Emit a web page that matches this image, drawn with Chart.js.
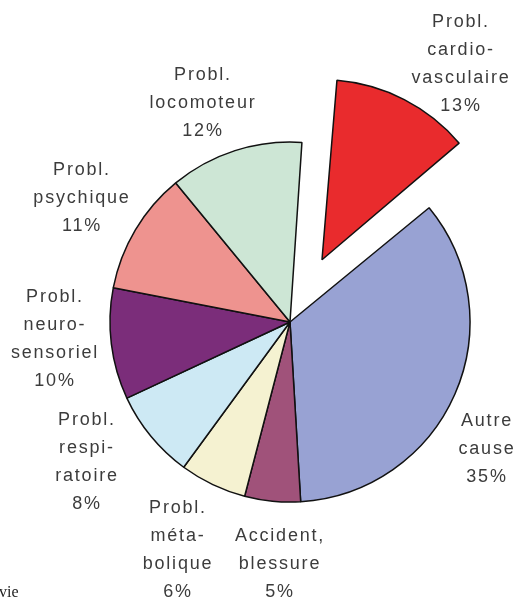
<!DOCTYPE html>
<html lang="fr">
<head>
    <meta charset="UTF-8">
    <title>Causes d'invalidité</title>
    <style>
        html, body {
            margin: 0;
            padding: 0;
            background: #fff;
            overflow: hidden;
        }
        canvas {
            display: block;
        }
    </style>
    <script src="https://cdn.jsdelivr.net/npm/chart.js"></script>
</head>
<body>

    <canvas id="pie-chart" width="517" height="599"></canvas>

    <script>
        // données, dans le sens des aiguilles d'une montre depuis le haut
        const categories = [
            ['Probl.', 'cardio-', 'vasculaire'],
            ['Autre', 'cause'],
            ['Accident,', 'blessure'],
            ['Probl.', 'méta-', 'bolique'],
            ['Probl.', 'respi-', 'ratoire'],
            ['Probl.', 'neuro-', 'sensoriel'],
            ['Probl.', 'psychique'],
            ['Probl.', 'locomoteur']
        ];
        const values = [13, 35, 5, 6, 8, 10, 11, 12];
        const colors = ['#e92b2d', '#98a2d3', '#a0527a', '#f5f2d1', '#cde9f4', '#7b2d7a', '#ee938f', '#cde6d5'];
        const explode = [280, 0, 0, 0, 0, 0, 0, 0];

        // position du bloc de texte, relative au centre du camembert
        const labelPos = [
            [171, -258], [197, 127], [-10, 242], [-112, 228],
            [-203, 140], [-235, 17], [-208, -124], [-87, -219]
        ];

        // chart.js agrandit le rayon d'une part décalée : on le remet à la taille des autres
        const keepRadius = {
            id: 'keepRadius',
            afterUpdate(chart) {
                chart.getDatasetMeta(0).data.forEach((arc, i) => {
                    const off = explode[i] / 4;
                    const fix = 1 - Math.sin(Math.min(Math.PI, arc.circumference));
                    arc.outerRadius -= off * fix;
                });
            }
        };

        const labelPlugin = {
            id: 'pieLabels',
            afterDatasetsDraw(chart) {
                const ctx = chart.ctx;
                const arcs = chart.getDatasetMeta(0).data;
                const cx = arcs[0].x;
                const cy = arcs[0].y;
                const lineH = 28;
                ctx.save();
                ctx.font = '18px "Liberation Sans", Arial, sans-serif';
                ctx.letterSpacing = '1.8px';
                ctx.fillStyle = '#3c3c3c';
                ctx.textAlign = 'center';
                ctx.textBaseline = 'middle';
                categories.forEach((lines, i) => {
                    const all = lines.concat([values[i] + '%']);
                    const x = cx + labelPos[i][0];
                    const y0 = cy + labelPos[i][1] - (all.length - 1) * lineH / 2;
                    all.forEach((t, k) => {
                        ctx.fillText(t, x, y0 + k * lineH);
                    });
                });
                // bout de légende coupé en bas à gauche
                ctx.letterSpacing = '0px';
                ctx.font = '16px "Liberation Serif", "Times New Roman", serif';
                ctx.fillStyle = '#222';
                ctx.textAlign = 'left';
                ctx.textBaseline = 'alphabetic';
                ctx.fillText('vie', -1, 597);
                ctx.restore();
            }
        };

        const ctx = document.getElementById('pie-chart').getContext('2d');

        const chart = new Chart(ctx, {
            type: 'pie',
            data: {
                labels: categories.map(c => c.join(' ')),
                datasets: [{
                    data: values,
                    backgroundColor: colors,
                    borderColor: '#111',
                    borderWidth: 1.5,
                    offset: explode,
                    clip: false
                }]
            },
            options: {
                responsive: false,
                animation: false,
                events: [],
                rotation: 3.8,
                radius: 180,
                layout: {
                    padding: { left: 63, top: 45, right: 0, bottom: 0 }
                },
                plugins: {
                    legend: { display: false },
                    tooltip: { enabled: false }
                }
            },
            plugins: [keepRadius, labelPlugin]
        });
    </script>
</body>
</html>
